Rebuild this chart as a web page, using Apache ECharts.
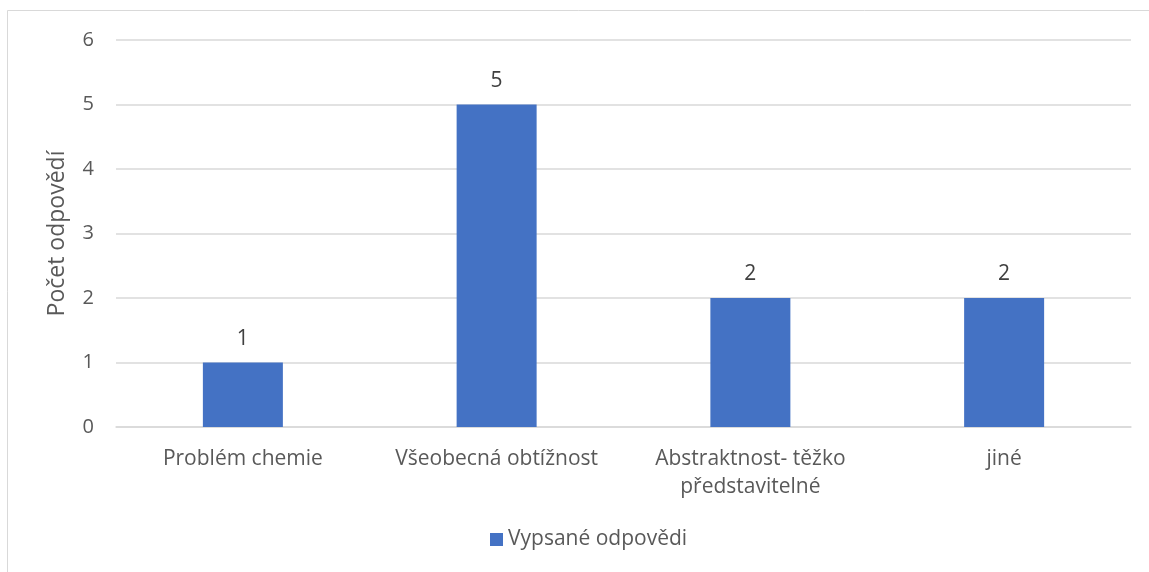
<!DOCTYPE html>
<html>
<head>
<meta charset="utf-8">
<script src="https://cdn.jsdelivr.net/npm/echarts@6/dist/echarts.min.js"></script>
<style>
  html, body { margin: 0; padding: 0; background: #fff; }
  #main { width: 1149px; height: 572px; }
</style>
</head>
<body>
<div id="main"></div>
<script>
// data
var categories = ['Problém chemie', 'Všeobecná obtížnost', 'Abstraktnost- těžko\npředstavitelné', 'jiné'];
var values = [1, 5, 2, 2];
var seriesName = 'Vypsané odpovědi';
var yTicks = [0, 1, 2, 3, 4, 5, 6];

var font = '"Open Sans", "Noto Sans", sans-serif';
var textColor = '#595959';

var myChart = echarts.init(document.getElementById('main'));

var option = {
    backgroundColor: '#fff',
    animation: false,
    textStyle: { fontFamily: font },
    graphic: [{
        type: 'rect',
        shape: { x: 7.5, y: 10.5, width: 1300, height: 700 },
        style: { fill: 'none', stroke: '#d9d9d9', lineWidth: 1 },
        silent: true
    }],
    grid: { left: 116, right: 18, top: 40, bottom: 145 },
    legend: {
        data: [seriesName],
        bottom: 17,
        left: 485,
        icon: 'rect',
        itemWidth: 13,
        itemHeight: 13,
        itemGap: 7,
        textStyle: { color: textColor, fontSize: 21, fontFamily: font }
    },
    xAxis: {
        type: 'category',
        data: categories,
        axisLine: { lineStyle: { color: '#d9d9d9', width: 1.5 } },
        axisTick: { show: false },
        axisLabel: { color: textColor, fontSize: 21, margin: 18, lineHeight: 28, interval: 0, fontFamily: font }
    },
    yAxis: {
        type: 'value',
        min: yTicks[0],
        max: yTicks[yTicks.length - 1],
        interval: 1,
        name: 'Počet odpovědí',
        nameLocation: 'middle',
        nameGap: 47,
        nameTextStyle: { color: textColor, fontSize: 23, fontFamily: font },
        axisLine: { show: false },
        axisTick: { show: false },
        axisLabel: { color: textColor, fontSize: 20, margin: 22, fontFamily: font },
        splitLine: { lineStyle: { color: '#d9d9d9', width: 1.5 } }
    },
    series: [{
        name: seriesName,
        type: 'bar',
        data: values,
        barWidth: 80,
        itemStyle: { color: '#4472c4' },
        label: {
            show: true,
            position: 'top',
            distance: 13,
            color: '#404040',
            fontSize: 21,
            fontFamily: font
        }
    }]
};

myChart.setOption(option);
</script>
</body>
</html>
